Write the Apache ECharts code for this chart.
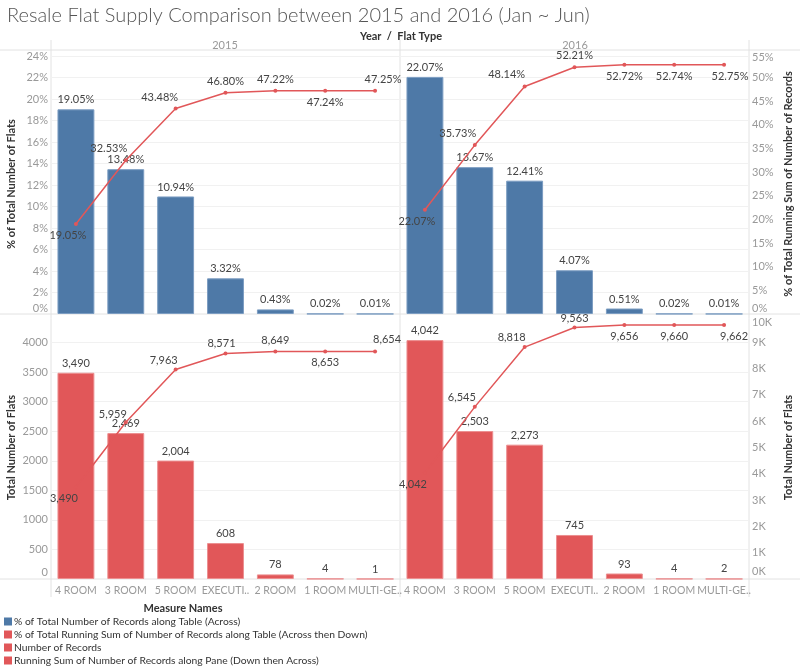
<!DOCTYPE html>
<html>
<head>
<meta charset="utf-8">
<script src="https://cdn.jsdelivr.net/npm/echarts@6/dist/echarts.min.js"></script>
<style>
html,body{margin:0;padding:0;background:#fff;}
#chart{width:800px;height:668px;}
</style>
</head>
<body>
<div id="chart"></div>
<script>
// ---- data ----
const categories = ['4 ROOM','3 ROOM','5 ROOM','EXECUTI..','2 ROOM','1 ROOM','MULTI-GE..'];
const years = ['2015','2016'];
const pct2015 = [19.05,13.48,10.94,3.32,0.43,0.02,0.01];
const pct2016 = [22.07,13.67,12.41,4.07,0.51,0.02,0.01];
const runPct2015 = [19.05,32.53,43.48,46.80,47.22,47.24,47.25];
const runPct2016 = [22.07,35.73,48.14,52.21,52.72,52.74,52.75];
const count2015 = [3490,2469,2004,608,78,4,1];
const count2016 = [4042,2503,2273,745,93,4,2];
const run2015 = [3490,5959,7963,8571,8649,8653,8654];
const run2016 = [4042,6545,8818,9563,9656,9660,9662];
const measureNames = [
  '% of Total Number of Records along Table (Across)',
  '% of Total Running Sum of Number of Records along Table (Across then Down)',
  'Number of Records',
  'Running Sum of Number of Records along Pane (Down then Across)'
];

// ---- label placement styles for the line points ----
const placeTL = [['bottom',-8,0],['top',-17,0],['top',-16,0],['top',0,0],['top',0,0],['bottom',0,0],['top',8,0]];
const placeTR = [['bottom',-8,0],['top',-17,0],['top',-18,0],['top',0,0],['bottom',0,0],['bottom',0,0],['bottom',6,0]];
const placeBL = [['bottom',-12,0],['top',-13,4],['top',-12,2],['top',-4,1],['top',0,0],['bottom',0,0],['top',12,0]];
const placeBR = [['bottom',-12,0],['top',-13,2],['top',-13,2],['top',0,2],['bottom',0,0],['bottom',0,0],['bottom',10,0]];

const FONT = 'Lato';
const BLUE = '#4e79a7';
const RED = '#e15759';
const TICK = '#999999';
const LINEC = '#e2e2e2';

const fmtPct = v => v.toFixed(2) + '%';
const fmtNum = v => v.toLocaleString('en-US');

function lineData(vals, place, fmt) {
  return vals.map((v, i) => ({
    value: v,
    label: { position: place[i][0], offset: [place[i][1], place[i][2]], formatter: fmt(v) }
  }));
}

const grids = [
  {left: 51, top: 54, width: 349, height: 260},
  {left: 400, top: 54, width: 349, height: 260},
  {left: 51, top: 316, width: 349, height: 263},
  {left: 400, top: 316, width: 349, height: 263}
];

const xAxes = [0,1,2,3].map(g => ({
  type: 'category', gridIndex: g, data: categories,
  axisLine: {show: false}, axisTick: {show: false},
  axisLabel: {show: g >= 2, color: TICK, fontFamily: FONT, fontSize: 10.5, margin: 6, interval: 0}
}));

const lbl = (extra) => Object.assign({color: TICK, fontFamily: FONT, fontSize: 11, margin: 3}, extra);
const richLo = (pad) => ({lo: {padding: [0,0,pad,0], color: TICK, fontFamily: FONT, fontSize: 11}, hi: {padding: [6,0,0,0], color: TICK, fontFamily: FONT, fontSize: 11}, hk: {padding: [12,0,0,0], color: TICK, fontFamily: FONT, fontSize: 11}});
const split = {show: true, showMaxLine: false, showMinLine: false, lineStyle: {color: '#f1f1f1', width: 1}};
const nameStyle = {color: '#333', fontFamily: FONT, fontSize: 11, fontWeight: 'bold'};

const yAxes = [
  {type: 'value', gridIndex: 0, position: 'left', min: 0, max: 24.2, interval: 2,
   name: '% of Total Number of Flats', nameLocation: 'middle', nameGap: 34, nameTextStyle: nameStyle,
   axisLine: {show: false}, axisTick: {show: false}, splitLine: split,
   axisLabel: lbl({showMaxLabel: false, formatter: v => v === 0 ? '{lo|0%}' : v + '%', rich: richLo(12)})},
  {type: 'value', gridIndex: 0, position: 'right', min: 0, max: 55, show: false},
  {type: 'value', gridIndex: 1, position: 'left', min: 0, max: 24.2, interval: 2,
   axisLine: {show: false}, axisTick: {show: false}, axisLabel: {show: false}, splitLine: split},
  {type: 'value', gridIndex: 1, position: 'right', min: 0, max: 55, interval: 5,
   name: '% of Total Running Sum of Number of Records', nameLocation: 'middle', nameGap: 34, nameRotate: 90, nameTextStyle: nameStyle,
   axisLine: {show: false}, axisTick: {show: false}, splitLine: {show: false},
   axisLabel: lbl({formatter: v => v === 0 ? '{lo|0%}' : (v === 55 ? '{hi|55%}' : v + '%'), rich: richLo(12)})},
  {type: 'value', gridIndex: 2, position: 'left', min: 0, max: 4450, interval: 500,
   name: 'Total Number of Flats', nameLocation: 'middle', nameGap: 34, nameTextStyle: nameStyle,
   axisLine: {show: false}, axisTick: {show: false}, splitLine: split,
   axisLabel: lbl({showMaxLabel: false, formatter: v => v === 0 ? '{lo|0}' : String(v), rich: richLo(14)})},
  {type: 'value', gridIndex: 2, position: 'right', min: 0, max: 10000, show: false},
  {type: 'value', gridIndex: 3, position: 'left', min: 0, max: 4450, interval: 500,
   axisLine: {show: false}, axisTick: {show: false}, axisLabel: {show: false}, splitLine: split},
  {type: 'value', gridIndex: 3, position: 'right', min: 0, max: 10000, interval: 1000,
   name: 'Total Number of Flats', nameLocation: 'middle', nameGap: 34, nameRotate: 90, nameTextStyle: nameStyle,
   axisLine: {show: false}, axisTick: {show: false}, splitLine: {show: false},
   axisLabel: lbl({formatter: v => v === 0 ? '{lo|0K}' : (v === 10000 ? '{hk|10K}' : (v/1000) + 'K'), rich: richLo(16)})}
];

const barLabel = (fmt) => ({show: true, position: 'top', distance: 4, color: '#444', fontFamily: FONT, fontSize: 11, formatter: p => fmt(p.value)});
const lineLabel = {show: true, color: '#444', fontFamily: FONT, fontSize: 11, distance: 4};

function barSeries(name, g, yi, data, color, fmt) {
  return {name, type: 'bar', xAxisIndex: g, yAxisIndex: yi, data, barWidth: '74%',
    itemStyle: {color, borderColor: color === BLUE ? '#7c9dc2' : '#ec8f90', borderWidth: 1},
    label: barLabel(fmt), z: 2, animation: false};
}
function lineSeries(name, g, yi, vals, place, fmt) {
  return {name, type: 'line', xAxisIndex: g, yAxisIndex: yi, data: lineData(vals, place, fmt),
    symbol: 'circle', symbolSize: 4, showSymbol: true,
    lineStyle: {color: RED, width: 1.5}, itemStyle: {color: RED},
    label: lineLabel, z: 5, animation: false};
}

const series = [
  barSeries(measureNames[0], 0, 0, pct2015, BLUE, fmtPct),
  barSeries(measureNames[0], 1, 2, pct2016, BLUE, fmtPct),
  lineSeries(measureNames[1], 0, 1, runPct2015, placeTL, fmtPct),
  lineSeries(measureNames[1], 1, 3, runPct2016, placeTR, fmtPct),
  barSeries(measureNames[2], 2, 4, count2015, RED, fmtNum),
  barSeries(measureNames[2], 3, 6, count2016, RED, fmtNum),
  lineSeries(measureNames[3], 2, 5, run2015, placeBL, fmtNum),
  lineSeries(measureNames[3], 3, 7, run2016, placeBR, fmtNum)
];

const sep = (x1,y1,x2,y2) => ({type: 'line', shape: {x1,y1,x2,y2}, style: {stroke: LINEC, lineWidth: 1}, silent: true, z: 0});

const option = {
  animation: false,
  textStyle: {fontFamily: FONT},
  title: [
    {text: 'Resale Flat Supply Comparison between 2015 and 2016 (Jan ~ Jun)', left: 7, top: 6, padding: 0,
     textStyle: {fontFamily: FONT, fontWeight: 300, fontSize: 20, color: '#555'}},
    {text: 'Year  /  Flat Type', left: 401, top: 31, padding: 0, textAlign: 'center',
     textStyle: {fontFamily: FONT, fontWeight: 'bold', fontSize: 11, color: '#333'}},
    {text: years[0], left: 225, top: 40, padding: 0, textAlign: 'center', textStyle: {fontFamily: FONT, fontWeight: 'normal', fontSize: 11, color: '#999'}},
    {text: years[1], left: 575, top: 40, padding: 0, textAlign: 'center', textStyle: {fontFamily: FONT, fontWeight: 'normal', fontSize: 11, color: '#999'}},
    {text: 'Measure Names', left: 183, top: 603, padding: 0, textAlign: 'center', textStyle: {fontFamily: FONT, fontWeight: 'bold', fontSize: 11, color: '#333'}}
  ],
  legend: {
    data: measureNames, orient: 'vertical', left: 4, top: 615, padding: 0, height: 80,
    itemWidth: 8, itemHeight: 8, itemGap: 0,
    icon: 'rect', selectedMode: false,
    itemStyle: {borderWidth: 0},
    textStyle: {fontFamily: FONT, fontSize: 10.3, lineHeight: 13, color: '#333', padding: [0,0,0,-3]}
  },
  grid: grids,
  xAxis: xAxes,
  yAxis: yAxes,
  series,
  graphic: [
    sep(0, 50, 800, 50),
    sep(0, 314, 800, 314),
    sep(0, 579, 800, 579),
    sep(51, 40, 51, 597),
    sep(400, 40, 400, 597),
    sep(749, 40, 749, 597)
  ]
};

const chart = echarts.init(document.getElementById('chart'), null, {renderer: 'canvas'});
chart.setOption(option);
</script>
</body>
</html>
